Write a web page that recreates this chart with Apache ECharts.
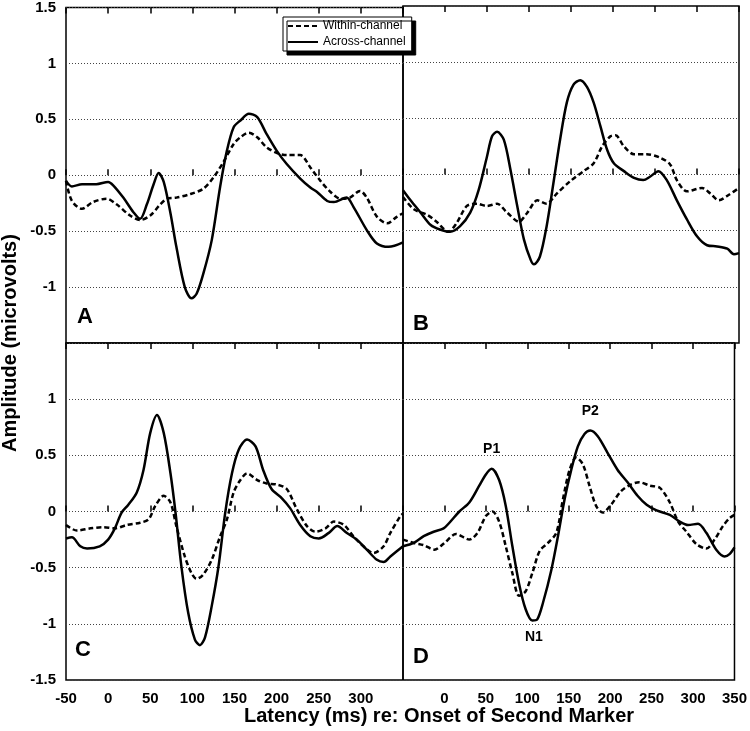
<!DOCTYPE html>
<html>
<head>
<meta charset="utf-8">
<script src="https://cdn.jsdelivr.net/npm/echarts@6/dist/echarts.min.js"></script>
<style>
html, body { margin: 0; padding: 0; background: #fff; }
#chart { width: 750px; height: 731px; }
</style>
</head>
<body>
<div id="chart"></div>
<script>
// [latency ms, amplitude uV]
var acrossA = [[-50,-0.05],[-43,-0.1],[-31,-0.08],[-14,-0.08],[0,-0.06],[6,-0.09],[18,-0.2],[30,-0.33],[38,-0.39],[46,-0.26],[54,-0.08],[60,0.02],[66,-0.06],[74,-0.34],[81,-0.64],[91,-1.0],[99,-1.1],[105,-1.06],[113,-0.88],[123,-0.58],[133,-0.1],[141,0.22],[149,0.43],[157,0.49],[167,0.55],[177,0.52],[188,0.37],[200,0.22],[212,0.1],[228,-0.03],[240,-0.11],[248,-0.15],[260,-0.23],[268,-0.24],[283,-0.2],[291,-0.28],[307,-0.49],[319,-0.61],[333,-0.64],[350,-0.6]];
var withinA = [[-50,-0.05],[-43,-0.23],[-31,-0.3],[-18,-0.24],[-2,-0.21],[10,-0.26],[26,-0.36],[38,-0.4],[50,-0.36],[62,-0.26],[70,-0.21],[81,-0.2],[97,-0.17],[113,-0.12],[125,-0.02],[137,0.12],[149,0.28],[157,0.34],[167,0.38],[177,0.34],[188,0.25],[200,0.2],[212,0.18],[228,0.18],[240,0.07],[252,-0.05],[264,-0.15],[276,-0.21],[287,-0.2],[299,-0.14],[307,-0.2],[319,-0.37],[331,-0.43],[343,-0.37],[350,-0.34]];
var acrossB = [[-50,-0.14],[-41,-0.23],[-29,-0.34],[-17,-0.45],[-6,-0.49],[6,-0.51],[18,-0.46],[30,-0.34],[40,-0.14],[50,0.16],[56,0.34],[62,0.38],[70,0.31],[78,0.04],[86,-0.28],[94,-0.58],[102,-0.76],[106,-0.8],[113,-0.73],[121,-0.46],[129,-0.08],[137,0.31],[145,0.64],[153,0.8],[161,0.84],[169,0.78],[177,0.64],[185,0.43],[193,0.22],[201,0.1],[213,0.03],[225,-0.03],[236,-0.05],[244,-0.02],[254,0.03],[264,-0.05],[276,-0.23],[288,-0.4],[300,-0.55],[312,-0.63],[324,-0.64],[336,-0.66],[344,-0.71],[350,-0.7]];
var withinB = [[-50,-0.2],[-37,-0.31],[-21,-0.36],[-10,-0.42],[4,-0.51],[14,-0.43],[26,-0.28],[38,-0.26],[50,-0.28],[62,-0.26],[74,-0.34],[88,-0.42],[98,-0.34],[110,-0.23],[121,-0.26],[133,-0.17],[149,-0.06],[165,0.03],[177,0.1],[187,0.25],[197,0.34],[203,0.35],[213,0.25],[225,0.18],[240,0.18],[256,0.15],[268,0.09],[276,-0.05],[288,-0.15],[306,-0.12],[316,-0.17],[326,-0.23],[338,-0.18],[350,-0.12]];
var acrossC = [[-50,-0.24],[-43,-0.23],[-33,-0.31],[-25,-0.33],[-10,-0.31],[0,-0.25],[8,-0.15],[16,-0.01],[24,0.06],[34,0.17],[42,0.37],[50,0.7],[58,0.86],[66,0.7],[74,0.34],[80,-0.01],[87,-0.49],[95,-0.9],[103,-1.14],[109,-1.19],[115,-1.12],[123,-0.84],[131,-0.49],[139,-0.01],[147,0.34],[155,0.55],[165,0.64],[175,0.58],[184,0.37],[194,0.2],[206,0.12],[216,0.03],[228,-0.12],[240,-0.22],[250,-0.24],[262,-0.19],[272,-0.13],[283,-0.19],[295,-0.25],[307,-0.34],[319,-0.43],[327,-0.45],[335,-0.4],[350,-0.31]];
var withinC = [[-50,-0.12],[-37,-0.17],[-21,-0.15],[-6,-0.14],[8,-0.15],[22,-0.12],[38,-0.1],[48,-0.07],[56,0.05],[66,0.14],[74,0.08],[81,-0.13],[91,-0.4],[99,-0.55],[105,-0.6],[113,-0.56],[123,-0.43],[133,-0.22],[141,-0.07],[149,0.17],[157,0.28],[165,0.34],[177,0.28],[188,0.25],[200,0.24],[212,0.2],[224,0.02],[236,-0.13],[246,-0.18],[258,-0.15],[268,-0.09],[280,-0.12],[291,-0.22],[303,-0.31],[315,-0.37],[327,-0.31],[335,-0.19],[347,-0.04],[350,-0.02]];
var acrossD = [[-50,-0.31],[-37,-0.28],[-25,-0.22],[-13,-0.18],[-1,-0.15],[6,-0.1],[18,0],[30,0.08],[42,0.23],[50,0.33],[57,0.38],[66,0.28],[74,0.05],[82,-0.31],[90,-0.64],[98,-0.87],[106,-0.97],[112,-0.96],[119,-0.81],[129,-0.52],[137,-0.22],[145,0.11],[153,0.37],[161,0.58],[169,0.69],[176,0.72],[185,0.67],[197,0.52],[209,0.37],[221,0.26],[233,0.14],[244,0.06],[256,0.01],[272,-0.03],[284,-0.09],[294,-0.12],[306,-0.11],[316,-0.19],[328,-0.34],[338,-0.4],[344,-0.38],[350,-0.32]];
var withinD = [[-50,-0.25],[-37,-0.28],[-25,-0.3],[-12,-0.34],[0,-0.28],[14,-0.2],[30,-0.25],[40,-0.19],[50,-0.04],[58,0],[66,-0.09],[74,-0.31],[82,-0.55],[90,-0.75],[98,-0.71],[106,-0.55],[115,-0.35],[125,-0.28],[135,-0.19],[143,0.11],[151,0.37],[159,0.48],[167,0.42],[175,0.23],[183,0.05],[191,-0.01],[201,0.06],[213,0.18],[225,0.24],[235,0.26],[248,0.23],[260,0.21],[272,0.08],[282,-0.09],[292,-0.18],[304,-0.29],[316,-0.33],[326,-0.25],[336,-0.13],[344,-0.06],[350,-0.03]];

var panelLetters = ['A', 'B', 'C', 'D'];
var peakNames = ['P1', 'P2', 'N1'];
var peakCoords = [[57, 0.38], [176, 0.72], [108, -0.97]];

var FONT = "'Liberation Sans', Arial, sans-serif";

var chart = echarts.init(document.getElementById('chart'));

var grids = [
    {left: 66, top: 6, width: 337, height: 337},
    {left: 403, top: 6, width: 336, height: 337},
    {left: 66, top: 343, width: 337, height: 337},
    {left: 403, top: 343, width: 336, height: 337}
];
grids.forEach(function (g) {
    g.show = true;
    g.borderColor = '#000';
    g.borderWidth = 1.5;
    g.backgroundColor = 'transparent';
});

var xAxes = [];
var yAxes = [];
for (var i = 0; i < 4; i++) {
    ['bottom', 'top'].forEach(function (pos) {
        var showLab = pos === 'bottom' && i >= 2;
        var panel = i;
        xAxes.push({
            type: 'value', gridIndex: i, position: pos,
            min: -50, max: 350, interval: 50,
            axisLine: {show: false},
            axisTick: {show: true, inside: true, length: 6, lineStyle: {color: '#000', width: 1.5}},
            splitLine: {show: false},
            axisLabel: {
                show: showLab, margin: 11, color: '#000',
                fontFamily: FONT, fontWeight: 'bold', fontSize: 15,
                formatter: function (v) {
                    if (panel === 2 && v === 350) return '';
                    if (panel === 3 && v === -50) return '';
                    return v;
                }
            }
        });
    });
    (function (panel) {
        yAxes.push({
            type: 'value', gridIndex: panel,
            min: -1.5, max: 1.5, interval: 0.5,
            axisLine: {show: false},
            axisTick: {show: false},
            splitLine: {show: true, lineStyle: {color: '#444', type: [1, 2], width: 1}},
            axisLabel: {
                show: panel === 0 || panel === 2, margin: 10, color: '#000',
                fontFamily: FONT, fontWeight: 'bold', fontSize: 15,
                formatter: function (v) {
                    if (panel === 0 && v === -1.5) return '';
                    if (panel === 2 && v === 1.5) return '';
                    return v;
                }
            }
        });
    })(i);
}

var acrossData = [acrossA, acrossB, acrossC, acrossD];
var withinData = [withinA, withinB, withinC, withinD];
var series = [];
for (var k = 0; k < 4; k++) {
    series.push({
        name: 'Within-channel', type: 'line', xAxisIndex: 2 * k, yAxisIndex: k,
        data: withinData[k], smooth: 0.3, symbol: 'none', silent: true,
        lineStyle: {color: '#000', width: 2.5, type: [5, 3]},
        itemStyle: {color: '#000'}
    });
    var s = {
        name: 'Across-channel', type: 'line', xAxisIndex: 2 * k, yAxisIndex: k,
        data: acrossData[k], smooth: 0.3, symbol: 'none', silent: true,
        lineStyle: {color: '#000', width: 2.5, type: 'solid'},
        itemStyle: {color: '#000'}
    };
    if (k === 3) {
        s.markPoint = {
            symbol: 'circle', symbolSize: 1,
            itemStyle: {color: 'rgba(0,0,0,0)'},
            label: {show: true, formatter: '{b}', color: '#000', fontFamily: FONT, fontWeight: 'bold', fontSize: 14},
            data: peakNames.map(function (n, j) {
                return {
                    name: n, coord: peakCoords[j],
                    label: {position: j === 2 ? 'bottom' : 'top', distance: j === 2 ? 9 : 12}
                };
            })
        };
    }
    series.push(s);
}

var letterPos = [[77, 317], [413, 324], [75, 650], [413, 657]];
var graphics = panelLetters.map(function (L, j) {
    return {
        type: 'text', x: letterPos[j][0], y: letterPos[j][1],
        style: {text: L, font: 'bold 22px ' + FONT, fill: '#000', textAlign: 'left', textVerticalAlign: 'middle'}
    };
});
graphics.push({
    type: 'text', x: 10, y: 343, rotation: Math.PI / 2,
    style: {text: 'Amplitude (microvolts)', font: 'bold 20px ' + FONT, fill: '#000', textAlign: 'center', textVerticalAlign: 'middle'}
});
graphics.push({
    type: 'text', x: 439, y: 716,
    style: {text: 'Latency (ms) re: Onset of Second Marker', font: 'bold 20px ' + FONT, fill: '#000', textAlign: 'center', textVerticalAlign: 'middle'}
});

var option = {
    animation: false,
    backgroundColor: '#fff',
    grid: grids,
    xAxis: xAxes,
    yAxis: yAxes,
    legend: {
        orient: 'vertical', left: 283, top: 17,
        data: ['Within-channel', 'Across-channel'],
        itemWidth: 30, itemHeight: 12, itemGap: 4,
        padding: [3, 6, 3, 4],
        backgroundColor: '#fff', borderColor: '#000', borderWidth: 1,
        shadowColor: '#000', shadowBlur: 0, shadowOffsetX: 4, shadowOffsetY: 4,
        selectedMode: false,
        itemStyle: {color: 'rgba(0,0,0,0)', borderWidth: 0, opacity: 0},
        lineStyle: {width: 2},
        textStyle: {color: '#000', fontFamily: FONT, fontSize: 12}
    },
    graphic: graphics,
    series: series
};

chart.setOption(option);
</script>
</body>
</html>
